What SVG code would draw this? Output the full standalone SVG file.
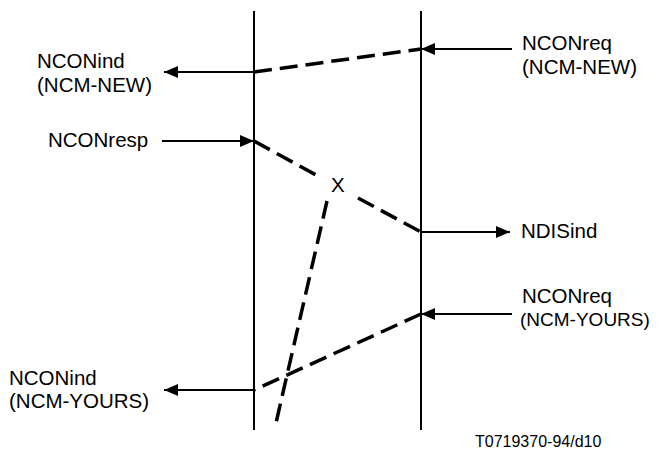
<svg xmlns="http://www.w3.org/2000/svg" width="660" height="455" viewBox="0 0 660 455">
<style>
  text { font-family: "Liberation Sans", Arial, sans-serif; font-size: 20.5px; fill: #000; }
  .small { font-size: 16px; }
  .fit { font-size: 19px; }
  .solid { stroke: #000; stroke-width: 2; fill: none; }
  .dash { stroke: #000; stroke-width: 3.5; fill: none; stroke-dasharray: 18 8; }
</style>
<defs>
  <marker id="ah" viewBox="0 0 14 12" refX="14" refY="6" markerWidth="14" markerHeight="12" markerUnits="userSpaceOnUse" orient="auto">
    <path d="M0,0 L14,6 L0,12 Z" fill="#000"/>
  </marker>
</defs>
<rect width="660" height="455" fill="#fff"/>
<g id="lifeline-left"><line class="solid" x1="254" y1="11" x2="254" y2="430"/></g>
<g id="lifeline-right"><line class="solid" x1="421" y1="11" x2="421" y2="430"/></g>
<g id="connectors">
  <line class="solid" x1="254" y1="72" x2="164" y2="72" marker-end="url(#ah)"/>
  <line class="dash" x1="254" y1="72" x2="421" y2="49"/>
  <line class="solid" x1="512" y1="49" x2="421" y2="49" marker-end="url(#ah)"/>
  <line class="solid" x1="162" y1="141" x2="254" y2="141" marker-end="url(#ah)"/>
  <line class="dash" x1="254" y1="141" x2="316" y2="175"/>
  <line class="dash" x1="358" y1="198" x2="421" y2="232"/>
  <line class="solid" x1="421" y1="232" x2="510" y2="232" marker-end="url(#ah)"/>
  <line class="dash" x1="327" y1="201" x2="276" y2="423"/>
  <line class="solid" x1="512" y1="314" x2="421" y2="314" marker-end="url(#ah)"/>
  <line class="dash" x1="421" y1="314" x2="254" y2="390"/>
  <line class="solid" x1="254" y1="390" x2="164" y2="390" marker-end="url(#ah)"/>
</g>
<g id="label-nconind-new"><text x="37" y="68">NCONind</text><text x="37" y="92">(NCM-NEW)</text></g>
<g id="label-nconreq-new"><text x="522" y="50">NCONreq</text><text x="522" y="74">(NCM-NEW)</text></g>
<g id="label-nconresp"><text x="48" y="147">NCONresp</text></g>
<g id="label-x"><text x="331" y="192">X</text></g>
<g id="label-ndisind"><text x="521" y="238">NDISind</text></g>
<g id="label-nconreq-yours"><text x="522" y="303">NCONreq</text><text class="fit" x="520" y="326">(NCM-YOURS)</text></g>
<g id="label-nconind-yours"><text x="9" y="385">NCONind</text><text x="9" y="408">(NCM-YOURS)</text></g>
<g id="label-ref"><text class="small" x="475" y="447">T0719370-94/d10</text></g>
</svg>
